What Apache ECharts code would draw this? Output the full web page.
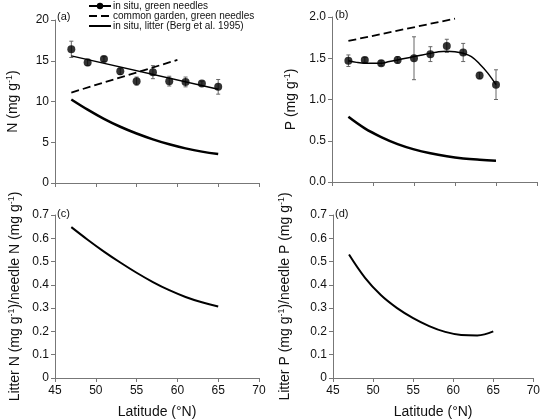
<!DOCTYPE html>
<html><head><meta charset="utf-8">
<script src="https://cdn.jsdelivr.net/npm/echarts@6/dist/echarts.min.js"></script>
<style>html,body{margin:0;padding:0;background:#fff}#c{width:543px;height:420px}</style>
</head><body><div id="c"></div>
<script>
// ---- data ----
const latitudes = [47, 49, 51, 53, 55, 57, 59, 61, 63, 65];
const needleN = [16.4, 14.8, 15.2, 13.7, 12.5, 13.6, 12.5, 12.4, 12.2, 11.8];
const needleNErr = [1.0, 0.4, 0.3, 0.4, 0.5, 0.8, 0.6, 0.6, 0.3, 0.9];
const needleP = [1.47, 1.48, 1.44, 1.48, 1.50, 1.55, 1.65, 1.57, 1.29, 1.18];
const needlePErr = [0.07, 0.03, 0.03, 0.04, 0.26, 0.09, 0.08, 0.11, 0.04, 0.18];

const fitNLat = [47, 65];
const fitN = [15.6, 11.5];
const fitPLat = [47,48,49,50,51,52,53,54,55,56,57,58,59,60,61,62,63,64,65];
const fitP = [1.47,1.45,1.44,1.44,1.44,1.46,1.48,1.50,1.52,1.54,1.56,1.58,1.585,1.58,1.56,1.52,1.43,1.32,1.18];

const gardenLat = [47, 60];
const gardenN = [11.1, 15.1];
const gardenP = [1.71, 1.98];

const curveLat = [47, 49, 51, 53, 55, 57, 59, 61, 63, 65];
const litterN = [10.25, 9.0, 7.87, 6.9, 6.07, 5.36, 4.75, 4.25, 3.85, 3.56];
const litterP = [0.79, 0.65, 0.545, 0.46, 0.396, 0.348, 0.312, 0.286, 0.270, 0.259];
const ratioN = [0.648, 0.594, 0.543, 0.496, 0.452, 0.412, 0.377, 0.348, 0.325, 0.307];
const ratioP = [0.53, 0.43, 0.355, 0.30, 0.257, 0.223, 0.198, 0.185, 0.183, 0.20];

const xTicks = {min: 45, max: 70, interval: 5};
const legendNames = ['in situ, green needles', 'common garden, green needles', 'in situ, litter (Berg et al. 1995)'];

// ---- helpers ----
const FONT = '"Liberation Sans", Arial, sans-serif';
const zip = (a, b) => a.map((v, i) => [v, b[i]]);
const zip3 = (a, b, c) => a.map((v, i) => [v, b[i], c[i]]);

function xAx(g, showLabel) {
  return {
    type: 'value', gridIndex: g, min: xTicks.min, max: xTicks.max, interval: xTicks.interval,
    axisLine: {show: true, onZero: false, lineStyle: {color: '#777', width: 1}},
    axisTick: {show: true, length: 4, lineStyle: {color: '#777'}},
    axisLabel: {show: showLabel, color: '#111', fontSize: 12, fontFamily: FONT, margin: 7},
    splitLine: {show: false},
    name: showLabel ? 'Latitude (°N)' : '', nameLocation: 'middle', nameGap: 27,
    nameTextStyle: {color: '#111', fontSize: 14, fontFamily: FONT}
  };
}
const richName = {
  n: {fontSize: 14, fontFamily: FONT, color: '#111', lineHeight: 16},
  s: {fontSize: 9, fontFamily: FONT, color: '#111', lineHeight: 9, verticalAlign: 'top'}
};
function yAx(g, min, max, interval, fmt, name, gap) {
  return {
    type: 'value', gridIndex: g, min: min, max: max, interval: interval,
    axisLine: {show: true, lineStyle: {color: '#777', width: 1}},
    axisTick: {show: true, length: 4, lineStyle: {color: '#777'}},
    axisLabel: {show: true, color: '#111', fontSize: 12, fontFamily: FONT, margin: 6, formatter: fmt},
    splitLine: {show: false},
    name: name, nameLocation: 'middle', nameGap: gap,
    nameTextStyle: {rich: richName}
  };
}
function errBars(xi, yi, data) {
  return {
    type: 'custom', xAxisIndex: xi, yAxisIndex: yi, data: data, z: 1, silent: true,
    renderItem: function (params, api) {
      const x = api.value(0), y = api.value(1), e = api.value(2);
      const t = api.coord([x, y + e]), b = api.coord([x, y - e]);
      const st = {stroke: '#666', lineWidth: 1};
      return {type: 'group', children: [
        {type: 'line', shape: {x1: t[0], y1: t[1], x2: b[0], y2: b[1]}, style: st},
        {type: 'line', shape: {x1: t[0] - 2, y1: t[1], x2: t[0] + 2, y2: t[1]}, style: st},
        {type: 'line', shape: {x1: b[0] - 2, y1: b[1], x2: b[0] + 2, y2: b[1]}, style: st}
      ]};
    }
  };
}
function dots(xi, yi, data) {
  return {type: 'scatter', name: 'obs', xAxisIndex: xi, yAxisIndex: yi, data: data, symbol: 'circle',
    symbolSize: 8, itemStyle: {color: '#000'}, z: 3, silent: true};
}
function line(name, xi, yi, data, opts) {
  return Object.assign({
    type: 'line', name: name, xAxisIndex: xi, yAxisIndex: yi, data: data,
    symbol: 'none', showSymbol: false, smooth: false, silent: true, z: 2,
    lineStyle: {color: '#000', width: 1.5}, itemStyle: {color: '#000'}
  }, opts || {});
}

const chart = echarts.init(document.getElementById('c'), null, {renderer: 'canvas'});
const f1 = v => v.toFixed(1);
const f0 = v => (v === 0 ? '0' : v.toFixed(1));

chart.setOption({
  animation: false,
  backgroundColor: '#fff',
  textStyle: {fontFamily: FONT},
  grid: [
    {left: 55, top: 20, width: 204, height: 163, containLabel: false},
    {left: 332, top: 17, width: 205, height: 165, containLabel: false},
    {left: 55, top: 215, width: 204, height: 165, containLabel: false},
    {left: 333, top: 215, width: 204, height: 165, containLabel: false}
  ],
  xAxis: [xAx(0, false), xAx(1, false), xAx(2, true), xAx(3, true)],
  yAxis: [
    yAx(0, 0, 20, 5, null, '{n|N (mg g}{s|-1}{n|)}', 34),
    yAx(1, 0, 2, 0.5, f1, '{n|P (mg g}{s|-1}{n|)}', 33),
    yAx(2, 0, 0.7, 0.1, f0, '{n|Litter N (mg g}{s|-1}{n|)/needle N (mg g}{s|-1}{n|)}', 32),
    yAx(3, 0, 0.7, 0.1, f0, '{n|Litter P (mg g}{s|-1}{n|)/needle P (mg g}{s|-1}{n|)}', 40)
  ],
  legend: {
    orient: 'vertical', left: 88, top: 1, padding: 0, itemWidth: 22, itemHeight: 8, itemGap: 0,
    selectedMode: false,
    textStyle: {fontSize: 10, fontFamily: FONT, color: '#111', lineHeight: 9.5, padding: [0, 0, 0, -3]},
    data: [
      {name: legendNames[0]},
      {name: legendNames[1], itemStyle: {opacity: 0}},
      {name: legendNames[2], itemStyle: {opacity: 0}}
    ]
  },
  graphic: [
    {type: 'text', left: 57, top: 11, style: {text: '(a)', font: '11px ' + FONT, fill: '#111'}},
    {type: 'text', left: 335, top: 9, style: {text: '(b)', font: '11px ' + FONT, fill: '#111'}},
    {type: 'text', left: 57, top: 208, style: {text: '(c)', font: '11px ' + FONT, fill: '#111'}},
    {type: 'text', left: 335, top: 208, style: {text: '(d)', font: '11px ' + FONT, fill: '#111'}}
  ],
  series: [
    // panel (a)
    errBars(0, 0, zip3(latitudes, needleN, needleNErr)),
    dots(0, 0, zip(latitudes, needleN)),
    line(legendNames[0], 0, 0, zip(fitNLat, fitN), {symbol: 'circle', symbolSize: 8}),
    line(legendNames[1], 0, 0, zip(gardenLat, gardenN), {lineStyle: {color: '#000', width: 1.8, type: [8, 4]}}),
    line(legendNames[2], 0, 0, zip(curveLat, litterN), {smooth: 0.4, lineStyle: {color: '#000', width: 2.5}}),
    // panel (b)
    errBars(1, 1, zip3(latitudes, needleP, needlePErr)),
    dots(1, 1, zip(latitudes, needleP)),
    line(legendNames[0], 1, 1, zip(fitPLat, fitP), {smooth: 0.4, symbol: 'circle', symbolSize: 8}),
    line(legendNames[1], 1, 1, zip(gardenLat, gardenP), {lineStyle: {color: '#000', width: 1.8, type: [8, 4]}}),
    line(legendNames[2], 1, 1, zip(curveLat, litterP), {smooth: 0.4, lineStyle: {color: '#000', width: 2.5}}),
    // panel (c)
    line('ratioN', 2, 2, zip(curveLat, ratioN), {smooth: 0.4, lineStyle: {color: '#000', width: 2}}),
    // panel (d)
    line('ratioP', 3, 3, zip(curveLat, ratioP), {smooth: 0.4, lineStyle: {color: '#000', width: 2}})
  ]
});
</script></body></html>
